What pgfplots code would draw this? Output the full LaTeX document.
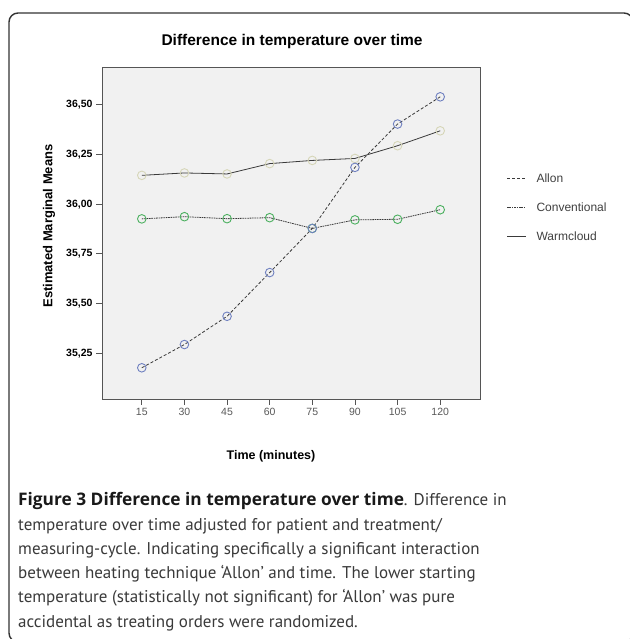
\documentclass[border=0pt]{standalone}
\usepackage{pgfplots}
\pgfplotsset{compat=1.18}
\usepackage{fontspec}
\setmainfont{Liberation Sans}
\newfontfamily\capfont{PT Sans}
\newfontfamily\capbold{Open Sans}
\definecolor{allonc}{HTML}{6F80C0}
\definecolor{convc}{HTML}{4CB060}
\definecolor{warmc}{HTML}{D6D6B8}
\definecolor{linec}{HTML}{3A3A3A}
\definecolor{bgc}{HTML}{F1F1F1}
\definecolor{framec}{HTML}{555555}
\definecolor{captxt}{HTML}{3A3A3A}

\begin{document}
\begin{tikzpicture}
\useasboundingbox (0pt,0pt) rectangle (629pt,639pt);
\fill[white] (0pt,0pt) rectangle (629pt,639pt);
\draw[line width=1.4pt, black!80, rounded corners=9pt] (9pt,-3pt) rectangle (633pt,626pt);

\begin{axis}[
  at={(102pt,240pt)}, anchor=south west,
  scale only axis, width=378pt, height=332pt,
  xmin=1, xmax=134, ymin=35.02, ymax=36.69,
  axis background/.style={fill=bgc},
  axis line style={framec, line width=0.8pt},
  xtick={15,30,45,60,75,90,105,120},
  ytick={35.25,35.5,35.75,36,36.25,36.5},
  tick pos=left, tick align=outside, major tick length=6pt,
  tick style={framec, line width=0.8pt},
  /pgf/number format/assume math mode=true,
  yticklabel style={font=\fontsize{10.5}{12}\selectfont\bfseries,
    /pgf/number format/.cd, fixed, fixed zerofill, precision=2, use comma},
  xticklabel style={font=\fontsize{10.5}{12}\selectfont, text=black!65},
]
\addplot[linec, line width=0.8pt, mark=o, mark size=4.3pt,
  mark options={solid, warmc, line width=0.9pt}] coordinates {
  (15,36.145) (30,36.157) (45,36.152) (60,36.204) (75,36.220) (90,36.230) (105,36.294) (120,36.369)};
\addplot[linec, line width=0.8pt, dash pattern=on 1.6pt off 0.8pt, mark=o, mark size=4.3pt,
  mark options={solid, convc, line width=0.9pt}] coordinates {
  (15,35.926) (30,35.937) (45,35.927) (60,35.932) (75,35.878) (90,35.921) (105,35.924) (120,35.972)};
\addplot[linec, line width=0.8pt, dash pattern=on 3pt off 2pt, mark=o, mark size=4.3pt,
  mark options={solid, allonc, line width=0.9pt}] coordinates {
  (15,35.177) (30,35.294) (45,35.436) (60,35.656) (75,35.878) (90,36.185) (105,36.403) (120,36.540)};
\end{axis}

% titles
\node[font=\fontsize{15.5}{18}\selectfont\bfseries] at (292pt,597pt) {Difference in temperature over time};
\node[font=\fontsize{13}{15}\selectfont\bfseries, rotate=90] at (49pt,413pt) {Estimated Marginal Means};
\node[font=\fontsize{12.5}{15}\selectfont\bfseries] at (271pt,183pt) {Time (minutes)};

% legend
\draw[linec, line width=0.8pt, dash pattern=on 3pt off 2pt] (507pt,461pt) -- (526pt,461pt);
\node[anchor=west, font=\fontsize{12}{15}\selectfont, text=black!75] at (533pt,461pt) {Allon};
\draw[linec, line width=0.8pt, dash pattern=on 1.6pt off 0.8pt] (507pt,432pt) -- (526pt,432pt);
\node[anchor=west, font=\fontsize{12}{15}\selectfont, text=black!75] at (533pt,432pt) {Conventional};
\draw[linec, line width=0.8pt] (507pt,403pt) -- (526pt,403pt);
\node[anchor=west, font=\fontsize{12}{15}\selectfont, text=black!75] at (533pt,403pt) {Warmcloud};

% caption
\begin{scope}[every node/.style={anchor=base west, inner sep=0pt, font=\capfont\fontsize{17}{20}\selectfont, text=captxt}]
\node at (18pt,133pt) {{\capbold\bfseries\fontsize{17.3}{20}\selectfont\color{black!90}Figure 3 Difference in temperature over time}. Difference in};
\node at (18pt,108.8pt) {temperature over time adjusted for patient and treatment/};
\node at (18pt,84.6pt) {measuring-cycle. Indicating specifically a significant interaction};
\node at (18pt,60.4pt) {between heating technique ‘Allon’ and time. The lower starting};
\node at (18pt,36.2pt) {temperature (statistically not significant) for ‘Allon’ was pure};
\node at (18pt,12pt) {accidental as treating orders were randomized.};
\end{scope}
\end{tikzpicture}
\end{document}
